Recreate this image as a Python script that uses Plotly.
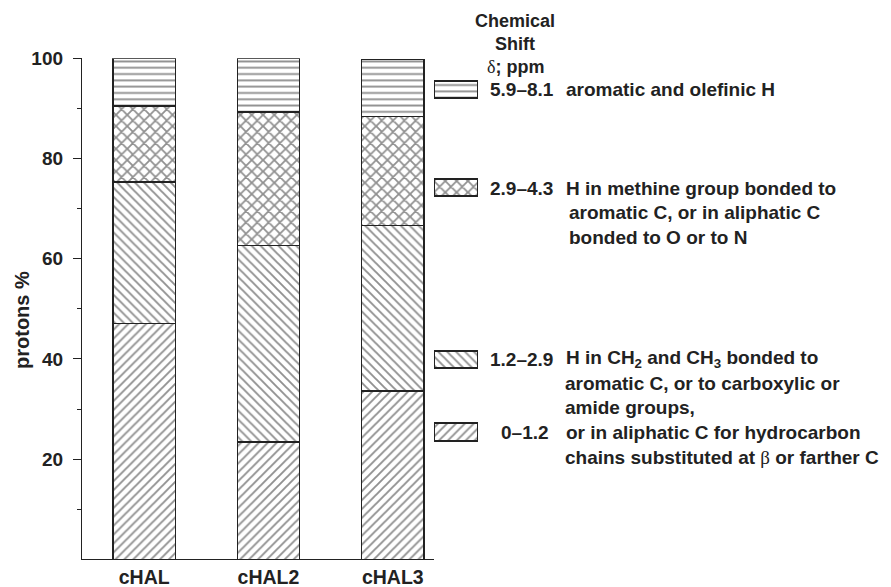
import plotly.graph_objects as go

# ---------------- data ----------------
samples = ["cHAL", "cHAL2", "cHAL3"]
shift_0_12 = [47.1, 23.4, 33.6]     # 0–1.2 ppm
shift_12_29 = [28.2, 39.3, 33.1]    # 1.2–2.9 ppm
shift_29_43 = [15.2, 26.6, 21.7]    # 2.9–4.3 ppm
shift_59_81 = [9.5, 10.7, 11.4]     # 5.9–8.1 ppm
y_ticks = [20, 40, 60, 80, 100]
y_minor = [10, 30, 50, 70, 90]

series = [
    ("0–1.2", shift_0_12, "/"),
    ("1.2–2.9", shift_12_29, "\\"),
    ("2.9–4.3", shift_29_43, "x"),
    ("5.9–8.1", shift_59_81, "-"),
]

# ---------------- layout helpers ----------------
W, H = 891, 587
FONT = "Liberation Sans, Arial, sans-serif"
LINE = "#222"
FG = "#222"


def px(x):
    return x / W


def py(y):
    return 1 - y / H


def pat(shape):
    if shape == "x":
        return dict(shape=shape, fgcolor=FG, bgcolor="white", size=8, solidity=0.4)
    return dict(shape=shape, fgcolor=FG, bgcolor="white", size=6.3, solidity=0.3)


fig = go.Figure()
for name, vals, shape in series:
    fig.add_trace(go.Bar(
        x=samples, y=vals, name=name, width=0.5,
        marker=dict(color="white", pattern=pat(shape), line=dict(color=LINE, width=1.2)),
        showlegend=False,
    ))

# legend swatches (drawn on an auxiliary pixel-scaled axis)
swatches = [("-", 81, 98), ("x", 179, 196), ("\\", 351, 368), ("/", 423, 441)]
for shape, top, bot in swatches:
    fig.add_trace(go.Bar(
        x=[0.5], y=[bot - top], base=[top], width=[1], xaxis="x2", yaxis="y2",
        marker=dict(color="white", pattern=pat(shape), line=dict(color=LINE, width=1.2)),
        showlegend=False, hoverinfo="skip",
    ))

ann = []


def text(x, y, s, size=19, xanchor="left", **kw):
    ann.append(dict(x=px(x), y=py(y), xref="paper", yref="paper", text=s, showarrow=False,
                    xanchor=xanchor, yanchor="middle",
                    font=dict(family=FONT, size=size, color="#222", weight="bold"), **kw))


SERIF = "<span style=\"font-family:'Liberation Serif'; font-weight:normal\">%s</span>"

text(515, 21, "Chemical", 18, "center")
text(515, 44, "Shift", 18, "center")
text(515, 67, (SERIF % "δ") + "; ppm", 18, "center")

text(488, 89, "5.9–8.1")
text(564, 89, "aromatic and olefinic H")

text(488, 189, "2.9–4.3")
text(564, 189, "H in methine group bonded to")
text(567, 213, "aromatic C, or in aliphatic C")
text(567, 237, "bonded to O or to N")

text(488, 359, "1.2–2.9")
text(564, 359, "H in CH<sub>2</sub> and CH<sub>3</sub> bonded to")
text(563, 383.5, "aromatic C, or to carboxylic or")
text(563, 407.5, "amide groups,")

text(499, 432, "0–1.2")
text(564, 432, "or in aliphatic C for hydrocarbon")
text(563, 457, "chains substituted at " + (SERIF % "β") + " or farther C")

# y-axis title
text(22, 320, "protons %", 20, "center", textangle=-90)

fig.update_layout(
    width=W, height=H,
    margin=dict(l=0, r=0, t=0, b=0),
    paper_bgcolor="white", plot_bgcolor="white",
    barmode="stack", bargap=0.5,
    font=dict(family=FONT, color="#222", weight="bold"),
    annotations=ann,
    xaxis=dict(
        domain=[px(82), px(455)], range=[-0.5, 2.5], type="category",
        showline=True, linecolor=LINE, linewidth=1.3, ticks="", showgrid=False,
        tickfont=dict(family=FONT, size=19.5, color="#222", weight="bold"),
        ticklabelstandoff=0, automargin=False, zeroline=False,
    ),
    yaxis=dict(
        domain=[py(559.3), py(58.3)], range=[0, 100],
        showline=True, linecolor=LINE, linewidth=1.3, showgrid=False, zeroline=False,
        tickvals=y_ticks, ticks="outside", ticklen=8, tickwidth=1.3, tickcolor=LINE,
        minor=dict(tickvals=y_minor, ticks="outside", ticklen=4, tickwidth=1.3, tickcolor=LINE),
        tickfont=dict(family=FONT, size=19, color="#222", weight="bold"),
        ticklabelstandoff=6, automargin=False,
    ),
    xaxis2=dict(domain=[px(434), px(478)], range=[0, 1], visible=False, anchor="y2"),
    yaxis2=dict(domain=[0, 1], range=[H, 0], visible=False, anchor="x2"),
)

fig.write_html("out.html")
